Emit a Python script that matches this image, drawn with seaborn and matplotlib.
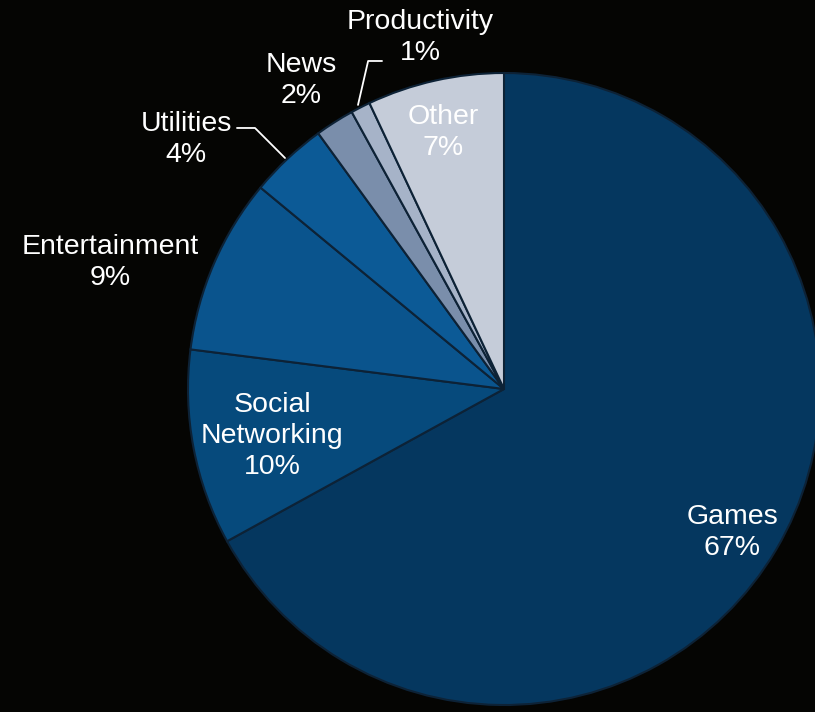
import matplotlib
matplotlib.use("Agg")
import matplotlib.pyplot as plt
import seaborn as sns

categories = ["Games", "Social\nNetworking", "Entertainment", "Utilities", "News", "Productivity", "Other"]
shares = [67, 10, 9, 4, 2, 1, 7]
pct_labels = ["67%", "10%", "9%", "4%", "2%", "1%", "7%"]

colors = ["#05375f", "#064a7c", "#0a548d", "#0c5a96", "#7a8eab", "#a6b3c8", "#c5ccd9"]
label_pos = [(0.722, -0.453), (-0.734, -0.149), (-1.247, 0.399), (-1.006, 0.788),
             (-0.642, 0.975), (-0.266, 1.111), (-0.193, 0.813)]

sns.set_theme(style="dark")
plt.rcParams['font.family'] = ['Liberation Sans', 'DejaVu Sans']

BG = "#050503"
fig = plt.figure(figsize=(8.15, 7.12), dpi=100, facecolor=BG)
ax = fig.add_axes([0, 0, 1, 1])
ax.set_facecolor(BG)

cx, cy, R = 504, 389, 316
wedges, _ = ax.pie(shares, colors=colors, startangle=90, counterclock=False, radius=1.0,
                   wedgeprops=dict(edgecolor="#0d2236", linewidth=1.5))

ax.set_xlim(-cx / R, (815 - cx) / R)
ax.set_ylim((cy - 712) / R, cy / R)
ax.set_aspect("equal")
ax.axis("off")

for cat, pct, (x, y) in zip(categories, pct_labels, label_pos):
    ax.text(x, y, f"{cat}\n{pct}", ha="center", va="center", color="white",
            fontsize=20.5, linespacing=1.25)

# leader lines
ax.plot([-0.845, -0.788, -0.693], [0.826, 0.826, 0.731], color="white", lw=1.3)
ax.plot([-0.386, -0.430, -0.462], [1.038, 1.038, 0.899], color="white", lw=1.3)

fig.savefig("out.png", dpi=100, facecolor=fig.get_facecolor())
